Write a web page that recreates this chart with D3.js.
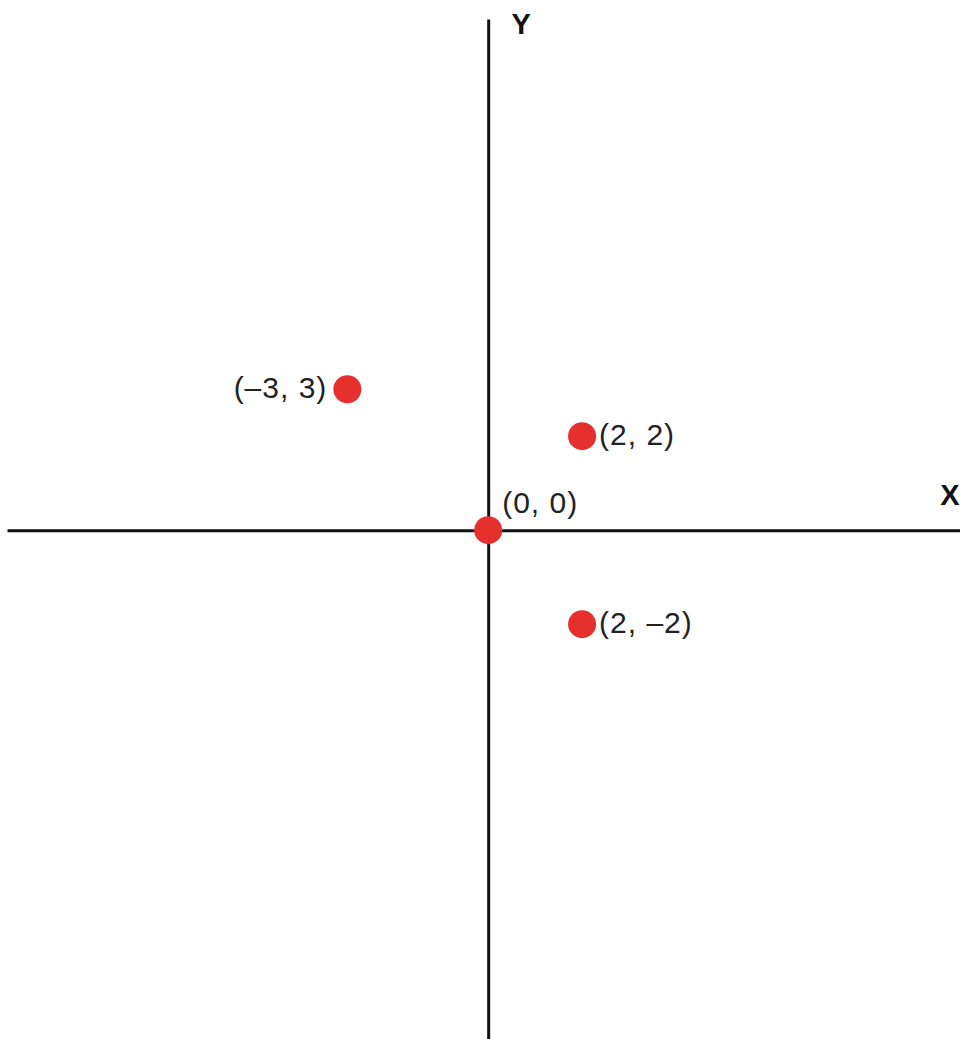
<!DOCTYPE html>
<html lang="en">
<head>
    <meta charset="utf-8" />
    <title>Points on the coordinate plane</title>
    <script src="https://d3js.org/d3.v7.min.js"></script>
    <style>
        body { margin: 0; background: #fff; }
        .pt-label { font-family: "Liberation Sans", Arial, sans-serif; font-size: 30px; letter-spacing: 1px; fill: #222; }
        .axis-name { font-family: "Liberation Sans", Arial, sans-serif; font-size: 29px; font-weight: bold; fill: #111; }
    </style>
</head>
<body>
    <svg id="plane" width="960" height="1039"></svg>
    <script>
        // data
        const pointX = [-3, 2, 0, 2];
        const pointY = [3, 2, 0, -2];
        const pointText = ["(\u20133, 3)", "(2, 2)", "(0, 0)", "(2, \u20132)"];
        const labelSide = ["left", "right", "above", "right"];

        // visible extent of the axes, in plane units
        const xExtent = [-10.25, 10.05];
        const yExtent = [-10.83, 10.88];

        const width = 960;
        const height = 1039;
        const svg = d3.select("#plane");

        const x = d3.scaleLinear().domain(xExtent).range([7, width]);
        const y = d3.scaleLinear().domain(yExtent).range([height, 19]);

        // axes: just the domain lines through the origin
        svg.append("g")
            .attr("transform", "translate(0," + y(0) + ")")
            .call(d3.axisBottom(x).tickValues([]).tickSizeOuter(0));
        svg.append("g")
            .attr("transform", "translate(" + x(0) + ",0)")
            .call(d3.axisLeft(y).tickValues([]).tickSizeOuter(0));
        svg.selectAll(".domain")
            .attr("stroke", "#111")
            .attr("stroke-width", 3);

        svg.append("text")
            .attr("class", "axis-name")
            .attr("x", x(xExtent[1]) - 10)
            .attr("y", y(0) - 25)
            .attr("text-anchor", "middle")
            .text("X");

        svg.append("text")
            .attr("class", "axis-name")
            .attr("x", x(0) + 33)
            .attr("y", y(yExtent[1]) + 15)
            .attr("text-anchor", "middle")
            .text("Y");

        const pts = pointX.map((d, i) => ({ x: d, y: pointY[i], text: pointText[i], side: labelSide[i] }));

        svg.selectAll("circle.pt")
            .data(pts)
            .enter()
            .append("circle")
            .attr("class", "pt")
            .attr("cx", d => x(d.x))
            .attr("cy", d => y(d.y))
            .attr("r", 14)
            .attr("fill", "#e5302e");

        svg.selectAll("text.pt-label")
            .data(pts)
            .enter()
            .append("text")
            .attr("class", "pt-label")
            .attr("x", d => d.side === "left" ? x(d.x) - 20 : d.side === "right" ? x(d.x) + 17 : x(d.x) + 14)
            .attr("y", d => d.side === "above" ? y(d.y) - 17 : y(d.y) + 9)
            .attr("text-anchor", d => d.side === "left" ? "end" : "start")
            .text(d => d.text);
    </script>
</body>
</html>
